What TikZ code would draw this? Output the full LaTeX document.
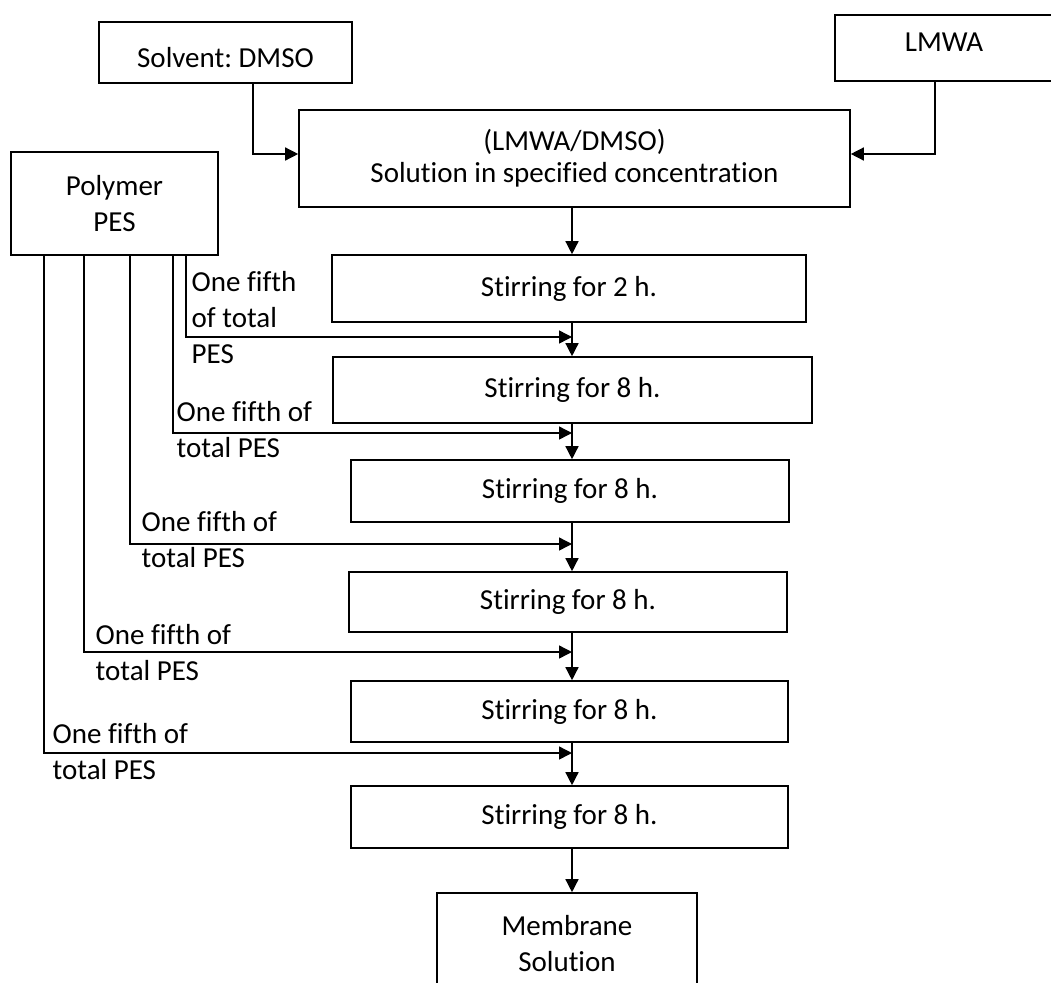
\documentclass[tikz,border=0pt]{standalone}
\usepackage{fontspec}
\setmainfont{Carlito}[Ligatures=NoCommon]
\usepackage{tikz}
\usetikzlibrary{arrows.meta}
\frenchspacing

\begin{document}
\begin{tikzpicture}[x=1pt,y=-1pt,>={Triangle[length=13pt,width=13pt]},line width=1.4pt,
box/.style={draw,line width=1.6pt,align=center,inner sep=0pt,font=\fontsize{29}{36}\selectfont},
feedtext/.style={align=left,anchor=west,inner sep=0pt,font=\fontsize{29}{36}\selectfont}]
\useasboundingbox (0,0) rectangle (1051,982);
%inputs
\node[box,minimum width=253pt,minimum height=61pt,text height=29pt,text depth=0pt](solvent) at (225.5,52.5){Solvent: DMSO};
\node[box,minimum width=218pt,minimum height=66pt,text height=20pt,text depth=12pt](lmwa) at (944,48){LMWA};
\node[box,minimum width=551pt,minimum height=97pt](mix) at (574.5,158.5){(LMWA/DMSO)\\[-4pt]Solution in specified concentration};
\node[box,minimum width=207pt,minimum height=103pt](polymer) at (114.5,203.5){Polymer\\PES};
%stirring steps
\node[box,minimum width=474pt,minimum height=67pt](stirA) at (569,288.5){Stirring for 2 h.};
\node[box,minimum width=479pt,minimum height=66pt](stirB) at (572.5,390){Stirring for 8 h.};
\node[box,minimum width=438pt,minimum height=62pt](stirC) at (570,491){Stirring for 8 h.};
\node[box,minimum width=438pt,minimum height=60pt](stirD) at (568,602){Stirring for 8 h.};
\node[box,minimum width=437pt,minimum height=61pt](stirE) at (569.5,711.5){Stirring for 8 h.};
\node[box,minimum width=437pt,minimum height=62pt](stirF) at (569.5,817){Stirring for 8 h.};
\node[box,minimum width=260pt,minimum height=101pt](membrane) at (567,943.5){Membrane\\Solution};
\coordinate (trunk) at (572,0);
\draw[->]([xshift=27.5pt]solvent.south)|-([yshift=4.5pt]mix.west);
\draw[->]([xshift=-9pt]lmwa.south)|-([yshift=4.5pt]mix.east);
\draw[->](mix.south -| trunk)--(stirA.north -| trunk);
\draw[->](stirA.south -| trunk)--(stirB.north -| trunk);
\draw[->](stirB.south -| trunk)--(stirC.north -| trunk);
\draw[->](stirC.south -| trunk)--(stirD.north -| trunk);
\draw[->](stirD.south -| trunk)--(stirE.north -| trunk);
\draw[->](stirE.south -| trunk)--(stirF.north -| trunk);
\draw[->](stirF.south -| trunk)--(membrane.north -| trunk);
%polymer split into fifths
\coordinate (cutA) at (186,337);
\coordinate (cutB) at (173,433);
\coordinate (cutC) at (130,544);
\coordinate (cutD) at (84,652);
\coordinate (cutE) at (44,753);
\draw[->](polymer.south -| cutA)|-(trunk |- cutA);
\draw[->](polymer.south -| cutB)|-(trunk |- cutB);
\draw[->](polymer.south -| cutC)|-(trunk |- cutC);
\draw[->](polymer.south -| cutD)|-(trunk |- cutD);
\draw[->](polymer.south -| cutE)|-(trunk |- cutE);
\node[feedtext](partA) at (191,318){One fifth\\of total\\PES};
\node[feedtext](partB) at (176,430){One fifth of\\total PES};
\node[feedtext](partC) at (141,540){One fifth of\\total PES};
\node[feedtext](partD) at (95,653){One fifth of\\total PES};
\node[feedtext](partE) at (52,752){One fifth of\\total PES};
\end{tikzpicture}
\end{document}
